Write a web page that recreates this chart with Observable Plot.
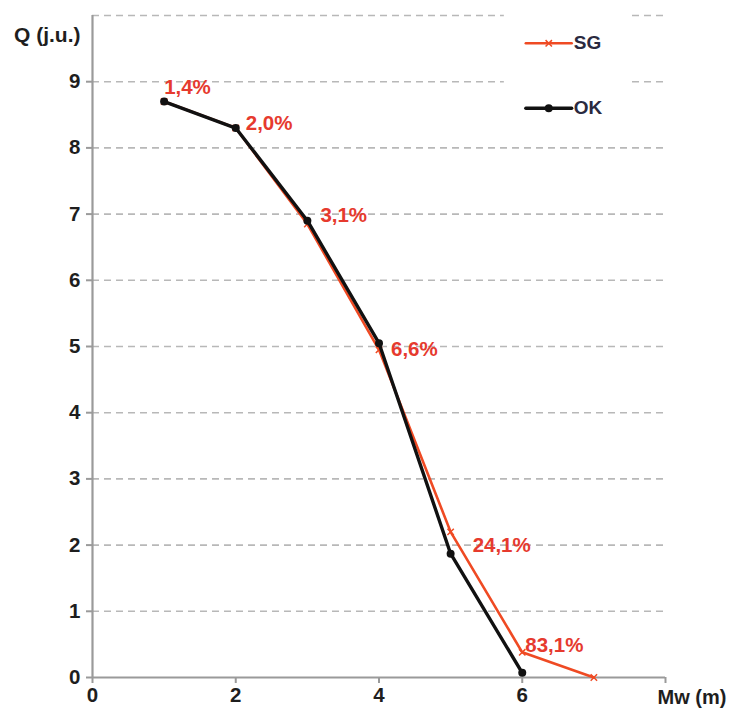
<!DOCTYPE html>
<html>
<head>
<meta charset="utf-8">
<script src="https://cdn.jsdelivr.net/npm/d3@7"></script>
<script src="https://cdn.jsdelivr.net/npm/@observablehq/plot@0.6"></script>
<style>
  html, body { margin: 0; padding: 0; background: #fff; }
  #chart svg { display: block; }
</style>
</head>
<body>
<div id="chart"></div>
<script>
// Mw (m) positions and Q (j.u.) values
const mwSG = [1, 2, 3, 4, 5, 6, 7];
const qSG  = [8.7, 8.3, 6.85, 4.95, 2.2, 0.38, 0.0];
const mwOK = [1, 2, 3, 4, 5, 6];
const qOK  = [8.7, 8.3, 6.9, 5.05, 1.87, 0.07];
// percentage labels at the SG points
const pctLabels = ["1,4%", "2,0%", "3,1%", "6,6%", "24,1%", "83,1%"];
const xTicks = [0, 2, 4, 6, 8];
const xTickLabels = ["0", "2", "4", "6", ""];
const yTicks = [0, 1, 2, 3, 4, 5, 6, 7, 8, 9];
const gridLines = [1, 2, 3, 4, 5, 6, 7, 8, 9, 10];

const RED = "#ef4a23";
const LABEL_RED = "#e63a2e";
const AXIS_GREY = "#9a9a9a";
const INK = "#1e1e1e";

const sg = mwSG.map((x, i) => ({x, y: qSG[i]}));
const ok = mwOK.map((x, i) => ({x, y: qOK[i]}));
// label placement relative to each point (px)
const labelOffsets = [[0, -14], [10, -5], [13, -9], [12, 0], [22, 14], [3, -7]];

const font = "'Liberation Sans', Arial, sans-serif";

const labelMarks = pctLabels.map((t, i) =>
  Plot.text([{x: mwSG[i], y: qSG[i], t}], {
    x: "x", y: "y", text: "t",
    dx: labelOffsets[i][0], dy: labelOffsets[i][1],
    textAnchor: "start", fill: LABEL_RED, fontSize: 20.5, fontWeight: "bold"
  })
);

const chart = Plot.plot({
  width: 734,
  height: 715,
  marginLeft: 92,
  marginTop: 15,
  marginBottom: 38,
  marginRight: 69,
  style: {fontFamily: font, fontWeight: "bold", fontSize: "20px", color: INK, background: "#fff"},
  x: {domain: [0, 8]},
  y: {domain: [0, 10]},
  marks: [
    Plot.ruleY(gridLines, {stroke: "#b8b8b8", strokeWidth: 1.6, strokeDasharray: "7,5"}),
    // legend panel
    Plot.rect([{x1: 5.75, x2: 7.5, y1: 8.2, y2: 10.1}], {x1: "x1", x2: "x2", y1: "y1", y2: "y2", fill: "#fff"}),
    Plot.ruleX([0], {stroke: AXIS_GREY, strokeWidth: 2.2}),
    Plot.ruleY([0], {stroke: AXIS_GREY, strokeWidth: 2.2}),
    Plot.axisY(yTicks, {tickSize: 6, tickPadding: 6, tickFormat: d3.format("d"), stroke: AXIS_GREY, strokeWidth: 2, fontSize: 20.5, fontWeight: "bold", fill: INK, label: null}),
    Plot.axisX(xTicks, {tickSize: 6, tickPadding: 4, tickFormat: (d, i) => xTickLabels[i], stroke: AXIS_GREY, strokeWidth: 2, fontSize: 20.5, fontWeight: "bold", fill: INK, label: null}),
    // SG series
    Plot.line(sg, {x: "x", y: "y", stroke: RED, strokeWidth: 2.6}),
    Plot.dot(sg, {x: "x", y: "y", symbol: "times", r: 3, stroke: RED, strokeWidth: 1.5}),
    // OK series
    Plot.line(ok, {x: "x", y: "y", stroke: "#111", strokeWidth: 3.4}),
    Plot.dot(ok, {x: "x", y: "y", r: 4, fill: "#111"}),
    // percentage labels
    ...labelMarks,
    // legend
    Plot.line([{x: 6.05, y: 9.58}, {x: 6.69, y: 9.58}], {x: "x", y: "y", stroke: RED, strokeWidth: 2.6}),
    Plot.dot([{x: 6.37, y: 9.58}], {x: "x", y: "y", symbol: "times", r: 3, stroke: RED, strokeWidth: 1.5}),
    Plot.text([{x: 6.72, y: 9.58, t: "SG"}], {x: "x", y: "y", text: "t", textAnchor: "start", fill: "#2a2a40", fontSize: 19, fontWeight: "bold"}),
    Plot.line([{x: 6.05, y: 8.6}, {x: 6.69, y: 8.6}], {x: "x", y: "y", stroke: "#111", strokeWidth: 3.4}),
    Plot.dot([{x: 6.37, y: 8.6}], {x: "x", y: "y", r: 4, fill: "#111"}),
    Plot.text([{x: 6.72, y: 8.6, t: "OK"}], {x: "x", y: "y", text: "t", textAnchor: "start", fill: "#2a2a40", fontSize: 19, fontWeight: "bold"}),
    // axis titles
    Plot.text([{x: 0, y: 9.7, t: "Q (j.u.)"}], {x: "x", y: "y", text: "t", textAnchor: "end", dx: -12, fill: INK, fontSize: 21, fontWeight: "bold"}),
    Plot.text([{x: 8, y: 0, t: "Mw (m)"}], {x: "x", y: "y", text: "t", textAnchor: "start", dy: 20, dx: -8, fill: INK, fontSize: 20, fontWeight: "bold"})
  ]
});
document.getElementById("chart").appendChild(chart);
</script>
</body>
</html>
